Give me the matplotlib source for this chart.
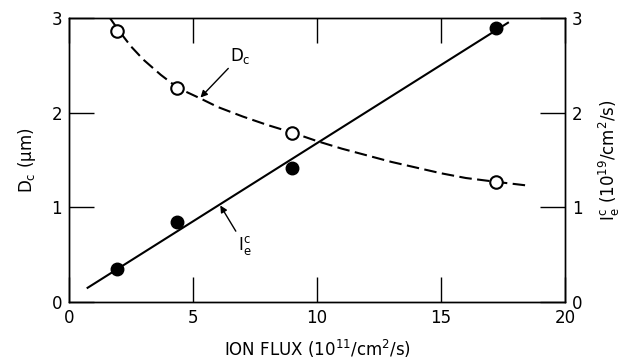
import matplotlib
matplotlib.use('Agg')
import matplotlib.pyplot as plt

flux_pts = [1.95, 4.35, 9.0, 17.2]          # ion flux (10^11/cm^2/s)
dc_pts = [2.86, 2.26, 1.79, 1.27]           # D_c (um), cercles vides
ie_pts = [0.35, 0.84, 1.42, 2.89]           # I_e^c (10^19/cm^2/s), cercles pleins

# Courbe en tirets (D_c) et droite (I_e^c)
dc_curve_x = [1.65, 2.0, 2.5, 3.0, 3.7, 4.4, 5.3, 6.0, 7.0, 8.0, 9.0, 10.0, 11.0,
              12.0, 13.0, 14.0, 15.0, 16.0, 17.2, 18.5]
dc_curve_y = [3.0, 2.87, 2.70, 2.56, 2.40, 2.26, 2.15, 2.06, 1.96, 1.87, 1.79, 1.70,
              1.62, 1.55, 1.48, 1.42, 1.36, 1.31, 1.27, 1.23]
ie_line_x = [0.75, 17.7]
ie_line_y = [0.15, 2.95]

plt.rcParams['font.family'] = 'DejaVu Sans'
plt.rcParams['mathtext.default'] = 'regular'

fig = plt.figure(figsize=(6.25, 3.64), dpi=100)
ax = fig.add_subplot(111)
fig.subplots_adjust(left=0.1104, right=0.904, top=0.9505, bottom=0.1703)

ax.plot(dc_curve_x, dc_curve_y, color='black', lw=1.5, linestyle=(0, (6, 2.6)))
ax.plot(ie_line_x, ie_line_y, color='black', lw=1.5)
ax.plot(flux_pts, dc_pts, 'o', ms=9, mfc='white', mec='black', mew=1.5, zorder=3)
ax.plot(flux_pts, ie_pts, 'o', ms=9, mfc='black', mec='black', zorder=3)

# Annotations avec fleches
ax.annotate('D$_c$', xy=(5.3, 2.16), xytext=(6.5, 2.55), fontsize=12,
            arrowprops=dict(arrowstyle='-|>', color='black', lw=1.0,
                            shrinkA=0, shrinkB=0, mutation_scale=10))
ax.annotate('I$_e^c$', xy=(6.1, 1.02), xytext=(6.8, 0.55), fontsize=12,
            arrowprops=dict(arrowstyle='-|>', color='black', lw=1.0,
                            shrinkA=0, shrinkB=0, mutation_scale=10))

ax.set_xlim(0, 20)
ax.set_ylim(0, 3)
ax.set_xticks([0, 5, 10, 15, 20])
ax.set_yticks([0, 1, 2, 3])
ax.tick_params(direction='in', length=18, width=1, labelsize=12, top=True, pad=5)
ax.set_xlabel('ION FLUX (10$^{11}$/cm$^2$/s)', fontsize=12, labelpad=8)
ax.set_ylabel('D$_c$ ($\\mu$m)', fontsize=12, labelpad=10)

ax2 = ax.twinx()                  # Axe de droite pour I_e^c
ax2.set_ylim(0, 3)
ax2.set_yticks([0, 1, 2, 3])
ax2.tick_params(direction='in', length=18, width=1, labelsize=12, pad=5)
ax2.set_ylabel('I$_e^c$ (10$^{19}$/cm$^2$/s)', fontsize=12, labelpad=10)

for a in (ax, ax2):
    for s in a.spines.values():
        s.set_linewidth(1.0)

fig.savefig('out.png', dpi=100)
